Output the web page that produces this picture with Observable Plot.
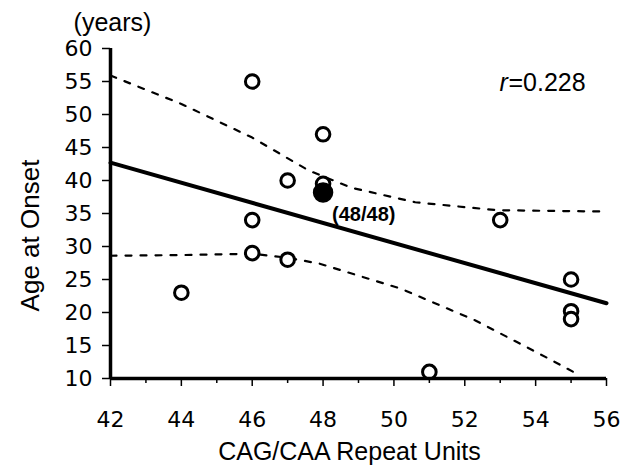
<!DOCTYPE html>
<html>
<head>
<meta charset="utf-8">
<script src="https://cdn.jsdelivr.net/npm/d3@7"></script>
<script src="https://cdn.jsdelivr.net/npm/@observablehq/plot@0.6"></script>
<style>
  html, body { margin: 0; padding: 0; background: #fff; }
</style>
</head>
<body>
<div id="chart"></div>
<script>
// Open-circle patients: repeat units and age at onset
const repeatUnits = [44, 46, 46, 46, 47, 47, 48, 48, 51, 53, 55, 55, 55];
const onsetAge    = [23, 55, 34, 29, 40, 28, 47, 39.5, 11, 34, 25, 20.2, 19];
// Filled (homozygous) patient
const homoRepeat = [48];
const homoAge = [38.2];
const homoLabel = ["(48/48)"];
// Regression line
const fitX = [42, 56];
const fitY = [42.7, 21.4];
// Upper confidence band
const upperX = [42, 44, 46, 47.6, 48.8, 50.6, 52.9, 55.9];
const upperY = [55.9, 51.6, 46.5, 41.5, 38.9, 36.7, 35.5, 35.3];
// Lower confidence band
const lowerX = [42, 44, 46, 47, 47.9, 50.2, 52.3, 54.3, 55.1];
const lowerY = [28.6, 28.7, 28.9, 28.3, 27.4, 23.6, 18.8, 13.2, 10.9];
// Ticks
const xMajor = [42, 44, 46, 48, 50, 52, 54, 56];
const xMinor = [43, 45, 47, 49, 51, 53, 55];
const yTicks = [10, 15, 20, 25, 30, 35, 40, 45, 50, 55, 60];
const rText = ["r", "=0.228"];

const pts = repeatUnits.map((x, i) => ({x, y: onsetAge[i]}));
const homo = homoRepeat.map((x, i) => ({x, y: homoAge[i], label: homoLabel[i]}));
const fit = fitX.map((x, i) => ({x, y: fitY[i]}));
const upper = upperX.map((x, i) => ({x, y: upperY[i]}));
const lower = lowerX.map((x, i) => ({x, y: lowerY[i]}));

const font = "'Liberation Sans', Arial, sans-serif";
const digitFont = "'DejaVu Sans', sans-serif";

const chart = Plot.plot({
  width: 640,
  height: 467,
  marginLeft: 110,
  marginRight: 34,
  marginTop: 48,
  marginBottom: 89,
  style: {fontFamily: font, color: "#000", background: "#fff"},
  x: {type: "linear", domain: [42, 56]},
  y: {type: "linear", domain: [10, 60]},
  marks: [
    Plot.line(upper, {x: "x", y: "y", stroke: "#000", strokeWidth: 2.2, strokeDasharray: "6,9"}),
    Plot.line(lower, {x: "x", y: "y", stroke: "#000", strokeWidth: 2.2, strokeDasharray: "6,9"}),
    Plot.line(fit, {x: "x", y: "y", stroke: "#000", strokeWidth: 4}),
    Plot.dot(pts, {x: "x", y: "y", r: 6.8, stroke: "#000", strokeWidth: 3, fill: "#fff"}),
    Plot.dot(homo, {x: "x", y: "y", r: 9.5, fill: "#000", stroke: "#000"}),
    Plot.text(homo, {x: "x", y: "y", text: "label", dx: 9, dy: 22, textAnchor: "start", fontWeight: "bold", fontSize: 20, letterSpacing: -0.5}),
    // axes
    Plot.axisY({ticks: yTicks, tickSize: 8, tickPadding: 10, fontSize: 22, fontFamily: digitFont, label: null, strokeWidth: 1.5}),
    Plot.axisX({ticks: xMajor, tickSize: 8, tickPadding: 25, fontSize: 22, fontFamily: digitFont, label: null, strokeWidth: 1.5}),
    Plot.axisX({ticks: xMinor, tickSize: 5, tickFormat: () => "", label: null, strokeWidth: 1.5}),
    Plot.ruleX([42], {y1: 10, y2: 60, stroke: "#000", strokeWidth: 3.5}),
    Plot.ruleY([10], {x1: 42, x2: 56, stroke: "#000", strokeWidth: 3.5}),
    // labels
    Plot.text(["(years)"], {frameAnchor: "top-left", lineAnchor: "middle", dx: 2, dy: -26, textAnchor: "middle", fontSize: 25}),
    Plot.text(["Age at Onset"], {frameAnchor: "left", lineAnchor: "middle", dx: -80, dy: 22, rotate: -90, textAnchor: "middle", fontSize: 26}),
    Plot.text(["CAG/CAA Repeat Units"], {frameAnchor: "bottom", lineAnchor: "middle", dx: -9, dy: 73, textAnchor: "middle", fontSize: 25}),
    Plot.text([rText[0]], {frameAnchor: "top-right", lineAnchor: "middle", dx: -107, dy: 34, textAnchor: "start", fontSize: 25, fontStyle: "italic"}),
    Plot.text([rText[1]], {frameAnchor: "top-right", lineAnchor: "middle", dx: -98, dy: 34, textAnchor: "start", fontSize: 25})
  ]
});
document.getElementById("chart").append(chart);
</script>
</body>
</html>
